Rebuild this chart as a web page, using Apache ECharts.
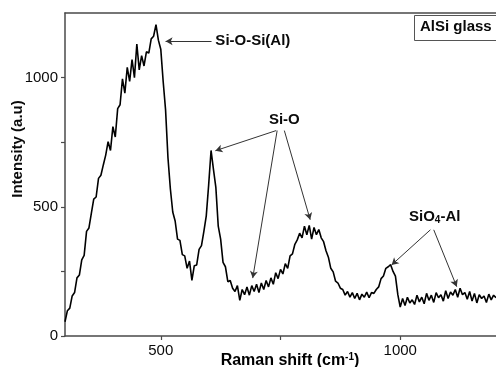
<!DOCTYPE html>
<html>
<head>
<meta charset="utf-8">
<script src="https://cdn.jsdelivr.net/npm/echarts@6/dist/echarts.min.js"></script>
<style>
  html, body { margin: 0; padding: 0; background: #fff; }
  #chart { width: 496px; height: 367px; }
</style>
</head>
<body>
<div id="chart"></div>
<script>
const ramanShift = [
  300, 305, 310, 315, 320, 325, 330, 335, 340, 345, 350, 355, 360, 365, 370, 375, 380, 385, 390, 395,
  400, 405, 410, 415, 420, 425, 430, 435, 440, 445, 450, 455, 460, 465, 470, 475, 480, 485, 490, 495,
  500, 505, 510, 515, 520, 525, 530, 535, 540, 545, 550, 555, 560, 565, 570, 575, 580, 585, 590, 595,
  600, 605, 610, 615, 620, 625, 630, 635, 640, 645, 650, 655, 660, 665, 670, 675, 680, 685, 690, 695,
  700, 705, 710, 715, 720, 725, 730, 735, 740, 745, 750, 755, 760, 765, 770, 775, 780, 785, 790, 795,
  800, 805, 810, 815, 820, 825, 830, 835, 840, 845, 850, 855, 860, 865, 870, 875, 880, 885, 890, 895,
  900, 905, 910, 915, 920, 925, 930, 935, 940, 945, 950, 955, 960, 965, 970, 975, 980, 985, 990, 995,
  1000, 1005, 1010, 1015, 1020, 1025, 1030, 1035, 1040, 1045, 1050, 1055, 1060, 1065, 1070, 1075, 1080, 1085, 1090, 1095,
  1100, 1105, 1110, 1115, 1120, 1125, 1130, 1135, 1140, 1145, 1150, 1155, 1160, 1165, 1170, 1175, 1180, 1185, 1190, 1195,
  1200
];

const intensity = [
  55, 98, 108, 155, 168, 225, 236, 295, 312, 405, 418, 475, 530, 538, 610, 622, 662, 700, 752, 718,
  810, 770, 880, 895, 995, 940, 1040, 985, 1070, 1000, 1130, 1030, 1085, 1045, 1100, 1095, 1150, 1160, 1205, 1145,
  1110, 985, 875, 690, 570, 480, 445, 375, 370, 315, 310, 262, 290, 215, 272, 275, 335, 350, 405, 465,
  585, 718, 645, 575, 425, 375, 285, 268, 210, 215, 185, 172, 195, 138, 180, 160, 190, 158, 195, 172,
  200, 168, 205, 180, 215, 190, 225, 200, 245, 222, 258, 240, 280, 262, 310, 318, 355, 372, 398, 380,
  425, 392, 428, 375, 420, 392, 412, 380, 365, 330, 305, 262, 248, 212, 205, 185, 180, 158, 172, 150,
  168, 145, 165, 140, 162, 150, 170, 148, 168, 165, 180, 190, 222, 232, 262, 268, 276, 250, 232, 160,
  112, 145, 118, 150, 128, 140, 122, 158, 132, 150, 125, 165, 138, 158, 130, 168, 148, 160, 135, 175,
  145, 170, 158, 180, 150, 185, 160, 168, 142, 172, 135, 165, 128, 160, 145, 155, 130, 162, 140, 158,
  148
];

const xTicks = [500, 750, 1000];
const xLabels = [500, 1000];
const yTicks = [0, 250, 500, 750, 1000];
const yLabels = [0, 500, 1000];

// annotation arrows: [fromShift, fromIntensity, toShift, toIntensity]
const arrows = [
  [606, 1141, 510, 1141],
  [741, 795, 614, 717],
  [743, 795, 692, 224],
  [758, 795, 812, 450],
  [1063, 411, 982, 275],
  [1070, 411, 1118, 191]
];

const notes = [
  [614, 1141, '{b|Si-O-Si(Al)}', 'left'],
  [758, 837, '{b|Si-O}', 'center'],
  [1072, 462, '{b|SiO}{s|4}{b|-Al}', 'center']
];

const FONT = '"Liberation Sans", Arial, sans-serif';
const AXIS = '#4a4a4a';
const INK = '#0a0a0a';

const chart = echarts.init(document.getElementById('chart'), null, { renderer: 'canvas' });

chart.setOption({
  animation: false,
  backgroundColor: '#fff',
  grid: { left: 65, top: 13, width: 433, height: 323 },
  xAxis: [
    {
      type: 'value', min: 300, max: 1200,
      axisLine: { show: true, onZero: false, lineStyle: { color: AXIS, width: 1.5 } },
      axisTick: { show: true, inside: false, length: 4, customValues: xTicks, lineStyle: { color: AXIS, width: 1.2 } },
      axisLabel: { customValues: xLabels, margin: 7, color: INK, fontSize: 15, fontFamily: FONT, formatter: (v) => String(v) },
      splitLine: { show: false }
    },
    {
      type: 'value', min: 300, max: 1200, position: 'top',
      axisLine: { show: true, onZero: false, lineStyle: { color: AXIS, width: 1.5 } },
      axisTick: { show: false }, axisLabel: { show: false }, splitLine: { show: false }
    }
  ],
  yAxis: {
    type: 'value', min: 0, max: 1250,
    axisLine: { show: true, onZero: false, lineStyle: { color: AXIS, width: 1.5 } },
    axisTick: { show: true, inside: false, length: 4, customValues: yTicks, lineStyle: { color: AXIS, width: 1.2 } },
    axisLabel: { customValues: yLabels, margin: 7, color: INK, fontSize: 15, fontFamily: FONT, formatter: (v) => String(v) },
    splitLine: { show: false }
  },
  series: [
    {
      type: 'line',
      data: ramanShift.map((x, i) => [x, intensity[i]]),
      showSymbol: false,
      lineStyle: { color: '#000', width: 1.6 },
      silent: true,
      markLine: {
        silent: true,
        symbol: ['none', 'arrow'],
        symbolSize: [6, 7],
        label: { show: false },
        lineStyle: { color: '#333', width: 1, type: 'solid' },
        data: arrows.map((a) => [{ coord: [a[0], a[1]] }, { coord: [a[2], a[3]] }])
      }
    },
    {
      type: 'scatter',
      symbolSize: 0,
      silent: true,
      itemStyle: { opacity: 1 },
      data: notes.map((n) => ({
        value: [n[0], n[1]],
        label: {
          show: true, position: 'inside', formatter: n[2], align: n[3], opacity: 1,
          rich: {
            b: { fontSize: 15, fontWeight: 'bold', color: INK, fontFamily: FONT, lineHeight: 18 },
            s: { fontSize: 10, fontWeight: 'bold', color: INK, fontFamily: FONT, lineHeight: 9, verticalAlign: 'bottom' }
          }
        }
      }))
    }
  ],
  graphic: [
    {
      type: 'rect', left: 414, top: 15,
      shape: { width: 90, height: 25 },
      style: { fill: '#fff', stroke: '#555', lineWidth: 1 }
    },
    {
      type: 'text', left: 420, top: 19,
      style: { text: 'AlSi glass', font: 'bold 15px ' + FONT, fill: INK }
    },
    {
      type: 'text', x: 18, y: 149, rotation: Math.PI / 2,
      style: { text: 'Intensity (a.u)', font: 'bold 15px ' + FONT, fill: INK, align: 'center', verticalAlign: 'middle' }
    },
    {
      type: 'text', x: 290, y: 361,
      style: {
        text: '{a|Raman shift (cm}{s|-1}{a|)}',
        align: 'center', verticalAlign: 'middle',
        rich: {
          a: { fontSize: 16, fontWeight: 'bold', fontFamily: FONT, color: INK, lineHeight: 18 },
          s: { fontSize: 10, fontWeight: 'bold', fontFamily: FONT, color: INK, lineHeight: 10, verticalAlign: 'top' }
        }
      }
    }
  ]
});
</script>
</body>
</html>
